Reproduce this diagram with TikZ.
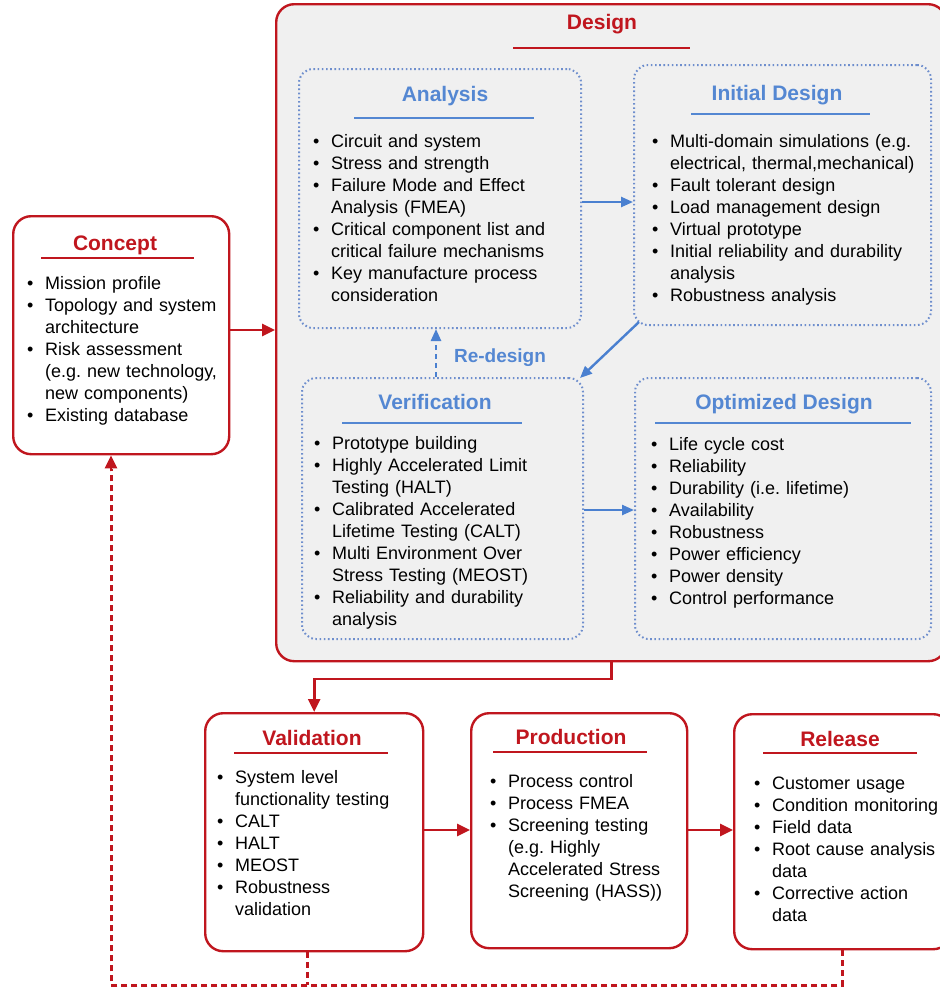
\documentclass[tikz,border=0pt]{standalone}
\usepackage{fontspec}
\setmainfont{Liberation Sans}
\usetikzlibrary{arrows.meta}
\definecolor{dred}{RGB}{192,22,30}
\definecolor{tblue}{RGB}{84,135,210}
\definecolor{ablue}{RGB}{74,128,208}
\definecolor{dblue}{RGB}{110,142,205}
\definecolor{gfill}{RGB}{240,240,240}
\frenchspacing
\newcommand\itm[1]{\par\hangindent=18pt\hangafter=1\noindent\strut\makebox[18pt][l]{\textbullet}#1\par}
\newcommand\nl{\newline}
\tikzset{
  redbox/.style={draw=dred, line width=2.4pt, rounded corners=18pt, fill=white, anchor=north west, inner sep=0pt},
  dotbox/.style={draw=dblue, line width=2pt, dash pattern=on 1.6pt off 2.6pt, rounded corners=14pt, anchor=north west, inner sep=0pt},
  txt/.style={anchor=north west, inner sep=0pt, text width=290pt, font=\fontsize{18}{22}\selectfont\frenchspacing, execute at begin node=\raggedright},
  rtitle/.style={anchor=base, inner sep=0pt, text=dred, font=\fontsize{21}{25}\selectfont\bfseries},
  btitle/.style={anchor=base, inner sep=0pt, text=tblue, font=\fontsize{21}{25}\selectfont\bfseries},
  rline/.style={draw=dred, line width=2.2pt},
  bline/.style={draw=tblue, line width=2pt},
  redarrow/.style={draw=dred, line width=2.6pt, -{Triangle[length=13pt,width=12pt]}},
  redfeed/.style={draw=dred, line width=3pt, dash pattern=on 6pt off 4pt},
  bluearrow/.style={draw=ablue, line width=2.4pt, -{Triangle[length=12pt,width=10pt]}},
}
\begin{document}
\begin{tikzpicture}[x=1pt,y=-1pt]
\useasboundingbox (0,0) rectangle (940,989);
\clip (0,0) rectangle (940,989);
\fill[white] (0,0) rectangle (940,989);

% boxes
\node[redbox, fill=gfill, minimum width=670pt, minimum height=657pt] (design) at (275,3) {};
\node[redbox, minimum width=216pt, minimum height=238pt] (concept) at (12,215) {};
\node[dotbox, minimum width=282pt, minimum height=259pt] (analysis) at (298,68) {};
\node[dotbox, minimum width=297pt, minimum height=260pt] (initial) at (633,64) {};
\node[dotbox, minimum width=281pt, minimum height=261pt] (verif) at (301,377) {};
\node[dotbox, minimum width=296pt, minimum height=261pt] (optim) at (634,377) {};
\node[redbox, minimum width=218pt, minimum height=238pt] (valid) at (204,712) {};
\node[redbox, minimum width=216pt, minimum height=235pt] (prod) at (470,712) {};
\node[redbox, minimum width=217pt, minimum height=235pt] (rel) at (733,713) {};

% titles
\node[rtitle] (tdesign) at (602,29.5) {Design};
\draw[rline] (513,48) -- (690,48);
\node[rtitle] (tconcept) at (115,250.5) {Concept};
\draw[rline] (41,258) -- (194,258);
\node[btitle] (tanalysis) at (445,101.5) {Analysis};
\draw[bline] (354,118) -- (534,118);
\node[btitle] (tinitial) at (777,100.5) {Initial Design};
\draw[bline] (691,114) -- (870,114);
\node[btitle] (tverif) at (435,409.5) {Verification};
\draw[bline] (342,423) -- (522,423);
\node[btitle] (toptim) at (784,409.5) {Optimized Design};
\draw[bline] (655,423) -- (911,423);
\node[rtitle] (tvalid) at (312,745.5) {Validation};
\draw[rline] (234,753) -- (388,753);
\node[rtitle] (tprod) at (571,744.5) {Production};
\draw[rline] (493,752) -- (647,752);
\node[rtitle] (trel) at (840,746.5) {Release};
\draw[rline] (763,753) -- (917,753);

% texts
\node[txt] (xconcept) at (27,267.6) {%
\itm{Mission profile}
\itm{Topology and system\nl architecture}
\itm{Risk assessment\nl (e.g. new technology,\nl new components)}
\itm{Existing database}};
\node[txt] (xanalysis) at (313,125.6) {%
\itm{Circuit and system}
\itm{Stress and strength}
\itm{Failure Mode and Effect\nl Analysis (FMEA)}
\itm{Critical component list and\nl critical failure mechanisms}
\itm{Key manufacture process\nl consideration}};
\node[txt] (xinitial) at (652,125.6) {%
\itm{Multi-domain simulations (e.g.\nl electrical, thermal,mechanical)}
\itm{Fault tolerant design}
\itm{Load management design}
\itm{Virtual prototype}
\itm{Initial reliability and durability\nl analysis}
\itm{Robustness analysis}};
\node[txt] (xverif) at (314,427.6) {%
\itm{Prototype building}
\itm{Highly Accelerated Limit\nl Testing (HALT)}
\itm{Calibrated Accelerated\nl Lifetime Testing (CALT)}
\itm{Multi Environment Over\nl Stress Testing (MEOST)}
\itm{Reliability and durability\nl analysis}};
\node[txt] (xoptim) at (651,428.6) {%
\itm{Life cycle cost}
\itm{Reliability}
\itm{Durability (i.e. lifetime)}
\itm{Availability}
\itm{Robustness}
\itm{Power efficiency}
\itm{Power density}
\itm{Control performance}};
\node[txt] (xvalid) at (217,761.6) {%
\itm{System level\nl functionality testing}
\itm{CALT}
\itm{HALT}
\itm{MEOST}
\itm{Robustness\nl validation}};
\node[txt] (xprod) at (490,765.6) {%
\itm{Process control}
\itm{Process FMEA}
\itm{Screening testing\nl (e.g. Highly\nl Accelerated Stress\nl Screening (HASS))}};
\node[txt] (xrel) at (754,767.6) {%
\itm{Customer usage}
\itm{Condition monitoring}
\itm{Field data}
\itm{Root cause analysis\nl data}
\itm{Corrective action\nl data}};

% helper coordinates
\coordinate (yc) at (0,330);
\coordinate (ya) at (0,202);
\coordinate (yv) at (0,510);
\coordinate (yp) at (0,830);
\coordinate (xr) at (436,0);
\coordinate (xc) at (111,0);
\coordinate (xv) at (307,0);
\coordinate (yb) at (0,985);
\coordinate (yd) at (0,679);

% connectors
\draw[redarrow] (concept.east |- yc) -- (design.west |- yc);
\draw[bluearrow] (analysis.east |- ya) -- (initial.west |- ya);
\draw[bluearrow] ([xshift=6pt,yshift=4pt]initial.south west) -- ([xshift=-4pt,yshift=-1pt]verif.north east);
\draw[bluearrow, dash pattern=on 5pt off 4pt] (verif.north -| xr) -- (analysis.south -| xr);
\node[btitle, font=\fontsize{19}{23}\selectfont\bfseries] (redesign) at (500,362) {Re-design};
\draw[bluearrow] (verif.east |- yv) -- (optim.west |- yv);
\draw[redarrow] (design.south) -- (design.south |- yd) -| (valid.north);
\draw[redarrow] (valid.east |- yp) -- (prod.west |- yp);
\draw[redarrow] (prod.east |- yp) -- (rel.west |- yp);
\draw[redfeed] (valid.south -| xv) -- (xv |- yb);
\draw[redfeed] (rel.south) -- (rel.south |- yb) -- (xc |- yb) -- ([yshift=-14pt]xc |- concept.south);
\draw[redarrow] ([yshift=-16pt]xc |- concept.south) -- (xc |- concept.south);
\end{tikzpicture}
\end{document}
